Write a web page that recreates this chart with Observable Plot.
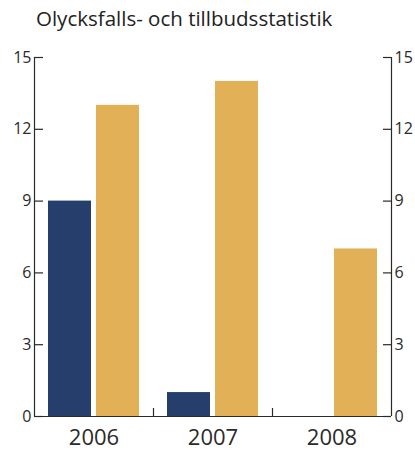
<!DOCTYPE html>
<html>
<head>
<meta charset="utf-8">
<script src="https://cdn.jsdelivr.net/npm/d3@7"></script>
<script src="https://cdn.jsdelivr.net/npm/@observablehq/plot@0.6"></script>
<style>
  html, body { margin: 0; padding: 0; background: #fff; }
  #title { box-sizing: border-box; height: 40px; padding: 6px 0 0 36px; font-family: "Open Sans", sans-serif; font-size: 20.5px; line-height: 25px; color: #222; white-space: nowrap; }
  svg { display: block; }
</style>
</head>
<body>
<div id="title">Olycksfalls- och tillbudsstatistik</div>
<div id="chart"></div>
<script>
const years = ["2006", "2007", "2008"];
const olycksfall = [9, 1, 0];
const tillbud = [13, 14, 7];
const yTicks = [0, 3, 6, 9, 12, 15];

const navy = "#253e6c";
const gold = "#e2b157";
const ink = "#2a2a2a";

const W = 415, H = 410, mL = 34, mR = 24, mT = 17, mB = 34;
const fw = W - mL - mR;
const fh = H - mT - mB;
const bw = fw / years.length;
const barW = 43;

const s1 = years.map((y, i) => ({year: y, value: olycksfall[i]}));
const s2 = years.map((y, i) => ({year: y, value: tillbud[i]}));

const chart = Plot.plot({
  width: W,
  height: H,
  marginLeft: mL,
  marginRight: mR,
  marginTop: mT,
  marginBottom: mB,
  style: {fontFamily: "Open Sans, sans-serif", color: ink, background: "#fff"},
  x: {type: "band", domain: years, padding: 0, axis: null, label: null},
  y: {domain: [0, 15], axis: null, label: null},
  marks: [
    Plot.barY(s1, {x: "year", y: "value", fill: navy, insetLeft: 14, insetRight: bw - 14 - barW}),
    Plot.barY(s2, {x: "year", y: "value", fill: gold, insetLeft: 62, insetRight: bw - 62 - barW}),
    Plot.ruleY([0], {stroke: ink, strokeWidth: 1.2}),
    Plot.tickX([years[0]], {x: d => d, dx: -bw / 2, stroke: ink, strokeWidth: 1.2}),
    Plot.tickX([years[years.length - 1]], {x: d => d, dx: bw / 2, stroke: ink, strokeWidth: 1.2}),
    Plot.tickX(years.slice(1), {x: d => d, dx: -bw / 2, insetTop: fh - 8, stroke: ink, strokeWidth: 1.2}),
    Plot.tickY(yTicks, {y: d => d, insetRight: fw - 9, stroke: ink, strokeWidth: 1.2}),
    Plot.tickY(yTicks, {y: d => d, insetLeft: fw - 8, stroke: ink, strokeWidth: 1.2}),
    Plot.axisY({ticks: yTicks, anchor: "left", label: null, tickSize: 0, tickPadding: 3, fontSize: 16, tickFormat: d => String(d)}),
    Plot.axisY({ticks: yTicks, anchor: "right", label: null, tickSize: 0, tickPadding: 3, fontSize: 16, tickFormat: d => String(d)}),
    Plot.axisX({anchor: "bottom", label: null, tickSize: 0, tickPadding: 13, fontSize: 22})
  ]
});
document.getElementById("chart").appendChild(chart);
</script>
</body>
</html>
